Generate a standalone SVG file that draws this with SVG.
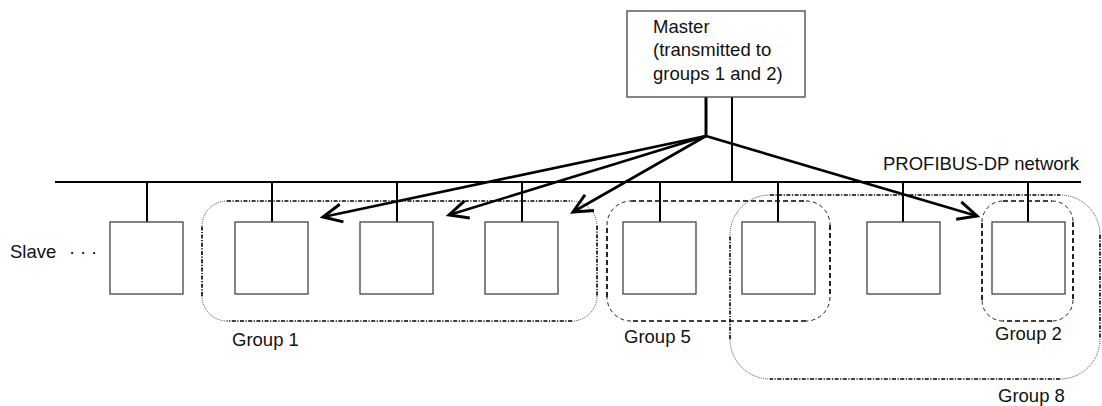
<svg xmlns="http://www.w3.org/2000/svg" width="1102" height="406" viewBox="0 0 1102 406">
<defs>
<style>
text{font-family:"Liberation Sans",Arial,sans-serif;font-size:18.5px;fill:#111}
.box{fill:#fff;stroke:#444;stroke-width:1.3}
.wire{stroke:#000;stroke-width:2;fill:none}
.arrow{stroke:#000;stroke-width:2.6;fill:none;marker-end:url(#open)}
.dd{fill:none;stroke:#000;stroke-width:1.6;stroke-dasharray:4 1.5 1.2 1.5}
.ddc{fill:none;stroke:#333;stroke-width:0.9;stroke-dasharray:1 1}
.da{fill:none;stroke:#000;stroke-width:1.7;stroke-dasharray:5 3}
.dac{fill:none;stroke:#222;stroke-width:1;stroke-dasharray:4 3}
</style>
<marker id="open" markerUnits="userSpaceOnUse" markerWidth="30" markerHeight="30" viewBox="-25 -15 30 30" refX="0" refY="0" orient="auto">
<path d="M-19,-9 L0,0 L-19,9" fill="none" stroke="#000" stroke-width="3"/>
</marker>
</defs>

<g id="group1">
<path class="dd" d="M227,201 H572 M597,226 V296 M572,321 H227 M202,296 V226"/>
<path class="ddc" d="M202,226 A25,25 0 0 1 227,201 M572,201 A25,25 0 0 1 597,226 M597,296 A25,25 0 0 1 572,321 M227,321 A25,25 0 0 1 202,296"/>
<text x="232" y="346">Group 1</text>
</g>
<g id="group5">
<path class="da" d="M631,201 H806 M830,225 V297 M806,321 H631 M607,297 V225"/>
<path class="dac" d="M607,225 A24,24 0 0 1 631,201 M806,201 A24,24 0 0 1 830,225 M830,297 A24,24 0 0 1 806,321 M631,321 A24,24 0 0 1 607,297"/>
<text x="624" y="343">Group 5</text>
</g>
<g id="group8">
<path class="dd" d="M770,195 H1060 M1100,235 V339 M1060,379 H770 M730,339 V235"/>
<path class="ddc" d="M730,235 A40,40 0 0 1 770,195 M1060,195 A40,40 0 0 1 1100,235 M1100,339 A40,40 0 0 1 1060,379 M770,379 A40,40 0 0 1 730,339"/>
<text x="998" y="402">Group 8</text>
</g>
<g id="group2">
<path class="da" d="M1003,201 H1052 M1073,222 V300 M1052,321 H1003 M982,300 V222"/>
<path class="dac" d="M982,222 A21,21 0 0 1 1003,201 M1052,201 A21,21 0 0 1 1073,222 M1073,300 A21,21 0 0 1 1052,321 M1003,321 A21,21 0 0 1 982,300"/>
<text x="995" y="340">Group 2</text>
</g>

<g id="connectors">
<path class="wire" d="M55,182 H1081"/>
<path class="wire" d="M147,182 V222 M272,182 V222 M397,182 V222 M522,182 V222 M660,182 V222 M778,182 V222 M903,182 V222 M1028,182 V222"/>
<path class="wire" d="M732,97 V182"/>
<path class="wire" stroke-width="3" style="stroke-width:3" d="M706,97 V136"/>
<path class="arrow" d="M706,136 L323,217"/>
<path class="arrow" d="M706,136 L449,215"/>
<path class="arrow" d="M706,136 L573,212"/>
<path class="arrow" d="M706,136 L977,216"/>
</g>

<g id="master">
<rect class="box" x="627" y="11" width="178" height="86"/>
<text x="653" y="33">Master</text>
<text x="653" y="56">(transmitted to</text>
<text x="653" y="80">groups 1 and 2)</text>
</g>

<g id="slave-label">
<text x="10" y="258">Slave</text>
<text x="69" y="258" letter-spacing="4.8">···</text>
</g>
<g id="slave1"><rect class="box" x="110" y="222" width="73" height="72"/></g>
<g id="slave2"><rect class="box" x="235" y="222" width="73" height="72"/></g>
<g id="slave3"><rect class="box" x="360" y="222" width="73" height="72"/></g>
<g id="slave4"><rect class="box" x="485" y="222" width="73" height="72"/></g>
<g id="slave5"><rect class="box" x="623" y="222" width="73" height="72"/></g>
<g id="slave6"><rect class="box" x="742" y="222" width="73" height="72"/></g>
<g id="slave7"><rect class="box" x="867" y="222" width="73" height="72"/></g>
<g id="slave8"><rect class="box" x="992" y="222" width="73" height="72"/></g>

<g id="network-label">
<text x="883" y="170">PROFIBUS-DP network</text>
</g>
</svg>
